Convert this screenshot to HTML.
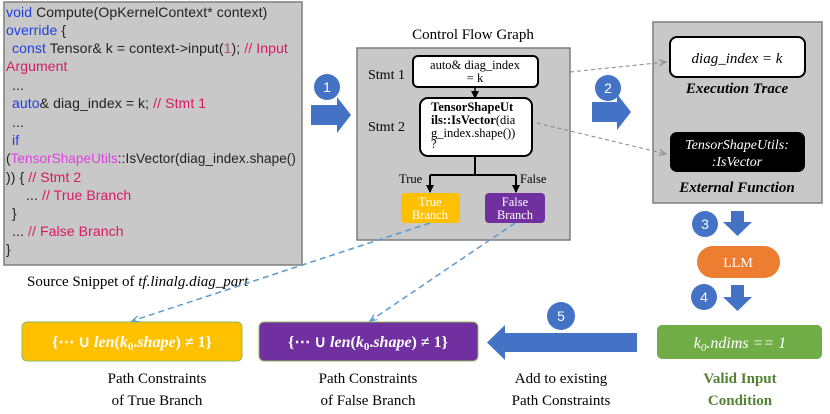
<!DOCTYPE html>
<html><head><meta charset="utf-8"><style>
body{margin:0;background:#fff;}
svg{display:block;}
.code{font-family:"Liberation Sans",sans-serif;font-size:14px;letter-spacing:0.1px;}
.serif{font-family:"Liberation Serif",serif;}
</style></head><body>
<svg width="830" height="414" viewBox="0 0 830 414" xmlns="http://www.w3.org/2000/svg">
<defs>
<marker id="ah" markerWidth="8" markerHeight="8" refX="7" refY="4" orient="auto" markerUnits="userSpaceOnUse"><path d="M0,0 L8,4 L0,8 z" fill="#000"/></marker>
<marker id="ag" markerWidth="8" markerHeight="8" refX="7" refY="4" orient="auto" markerUnits="userSpaceOnUse"><path d="M0,1 L7,4 L0,7" fill="none" stroke="#888" stroke-width="1"/></marker>
<marker id="ab" markerWidth="8" markerHeight="8" refX="7" refY="4" orient="auto" markerUnits="userSpaceOnUse"><path d="M0,1 L7,4 L0,7" fill="none" stroke="#5b9bd5" stroke-width="1.2"/></marker>
</defs>
<!-- code box -->
<rect x="4" y="2" width="298" height="263" fill="#c8c8c8" stroke="#7f7f7f" stroke-width="1.5"/>
<g class="code" fill="#222">
<text x="6" y="17"><tspan fill="#1f3fdf">void</tspan> Compute(OpKernelContext* context)</text>
<text x="6" y="35"><tspan fill="#1f3fdf">override</tspan> {</text>
<text x="12" y="53"><tspan fill="#1f3fdf">const</tspan> Tensor&amp; k = context-&gt;input(<tspan fill="#c0504d">1</tspan>); <tspan fill="#d81b60">// Input</tspan></text>
<text x="6" y="71" fill="#d81b60">Argument</text>
<text x="12" y="90">...</text>
<text x="12" y="108"><tspan fill="#1f3fdf">auto</tspan>&amp; diag_index = k; <tspan fill="#d81b60">// Stmt 1</tspan></text>
<text x="12" y="127">...</text>
<text x="12" y="145" fill="#1f3fdf">if</text>
<text x="6" y="163" textLength="290" lengthAdjust="spacingAndGlyphs">(<tspan fill="#e040e0">TensorShapeUtils</tspan>::IsVector(diag_index.shape()</text>
<text x="6" y="182">)) { <tspan fill="#d81b60">// Stmt 2</tspan></text>
<text x="26" y="200">... <tspan fill="#d81b60">// True Branch</tspan></text>
<text x="12" y="218">}</text>
<text x="12" y="236">... <tspan fill="#d81b60">// False Branch</tspan></text>
<text x="6" y="254">}</text>
</g>
<text x="27" y="286" class="serif" font-size="15">Source Snippet of <tspan font-style="italic">tf.linalg.diag_part</tspan></text>

<!-- arrow 1 -->
<circle cx="327" cy="87" r="13" fill="#4472c4"/>
<text x="327" y="92" text-anchor="middle" fill="#fff" font-family="Liberation Sans" font-size="14">1</text>
<path d="M311,105 L337,105 L337,97 L351,115 L337,133 L337,125 L311,125 z" fill="#4472c4"/>

<!-- CFG -->
<text x="473" y="39" text-anchor="middle" class="serif" font-size="15">Control Flow Graph</text>
<rect x="357" y="48" width="213" height="192" fill="#c8c8c8" stroke="#7f7f7f" stroke-width="1.5"/>
<text x="368" y="79" class="serif" font-size="14">Stmt 1</text>
<text x="368" y="131" class="serif" font-size="14">Stmt 2</text>
<rect x="413" y="56" width="125" height="31" rx="5" fill="#fff" stroke="#000" stroke-width="2"/>
<text x="475" y="69" text-anchor="middle" class="serif" font-size="12.5">auto&amp; diag_index</text>
<text x="475" y="82" text-anchor="middle" class="serif" font-size="12.5">= k</text>
<line x1="475" y1="87" x2="475" y2="98" stroke="#000" stroke-width="1.5" marker-end="url(#ah)"/>
<rect x="420" y="98" width="112" height="58" rx="8" fill="#fff" stroke="#000" stroke-width="2"/>
<g class="serif" font-size="12.5">
<text x="431" y="111" font-weight="bold">TensorShapeUt</text>
<text x="431" y="124"><tspan font-weight="bold">ils::IsVector</tspan>(dia</text>
<text x="431" y="137">g_index.shape())</text>
<text x="431" y="148">?</text>
</g>
<path d="M475,156 L475,175 M430,175 L516,175" stroke="#000" stroke-width="2" fill="none"/>
<line x1="430" y1="175" x2="430" y2="192" stroke="#000" stroke-width="2" marker-end="url(#ah)"/>
<line x1="516" y1="175" x2="516" y2="192" stroke="#000" stroke-width="2" marker-end="url(#ah)"/>
<text x="399" y="183" class="serif" font-size="12.5">True</text>
<text x="520" y="183" class="serif" font-size="12.5">False</text>
<rect x="401" y="193" width="59" height="30" rx="4" fill="#ffc000"/>
<text x="430" y="206" text-anchor="middle" class="serif" font-size="12.5" fill="#fff">True</text>
<text x="430" y="219" text-anchor="middle" class="serif" font-size="12.5" fill="#fff">Branch</text>
<rect x="485" y="193" width="60" height="30" rx="4" fill="#7030a0"/>
<text x="515" y="206" text-anchor="middle" class="serif" font-size="12.5" fill="#fff">False</text>
<text x="515" y="219" text-anchor="middle" class="serif" font-size="12.5" fill="#fff">Branch</text>

<!-- arrow 2 -->
<circle cx="608" cy="88" r="13" fill="#4472c4"/>
<text x="608" y="93" text-anchor="middle" fill="#fff" font-family="Liberation Sans" font-size="14">2</text>
<path d="M592,102 L617,102 L617,94 L631,112 L617,130 L617,122 L592,122 z" fill="#4472c4"/>

<!-- right box -->
<rect x="653" y="22" width="169" height="181" fill="#c8c8c8" stroke="#7f7f7f" stroke-width="1.5"/>
<rect x="670" y="37" width="135" height="40" rx="7" fill="#fff" stroke="#000" stroke-width="2"/>
<text x="737" y="63" text-anchor="middle" class="serif" font-style="italic" font-size="15">diag_index = k</text>
<text x="737" y="93" text-anchor="middle" class="serif" font-style="italic" font-weight="bold" font-size="15">Execution Trace</text>
<rect x="670" y="132" width="135" height="40" rx="7" fill="#000"/>
<text x="737" y="149" text-anchor="middle" class="serif" font-style="italic" font-size="14" fill="#fff">TensorShapeUtils:</text>
<text x="737" y="166" text-anchor="middle" class="serif" font-style="italic" font-size="14" fill="#fff">:IsVector</text>
<text x="737" y="192" text-anchor="middle" class="serif" font-style="italic" font-weight="bold" font-size="15">External Function</text>

<!-- gray dashed (on top) -->
<line x1="570" y1="72" x2="666" y2="62" stroke="#888" stroke-width="1" stroke-dasharray="4,3" marker-end="url(#ag)"/>
<line x1="537" y1="123" x2="666" y2="154" stroke="#888" stroke-width="1" stroke-dasharray="4,3" marker-end="url(#ag)"/>

<!-- 3 LLM 4 -->
<circle cx="705" cy="224" r="13" fill="#4472c4"/>
<text x="705" y="229" text-anchor="middle" fill="#fff" font-family="Liberation Sans" font-size="14">3</text>
<path d="M731,211 L744,211 L744,222 L752,222 L737.5,236 L723,222 L731,222 z" fill="#4472c4"/>
<rect x="697" y="246" width="83" height="32" rx="16" fill="#ed7d31"/>
<text x="738" y="267" text-anchor="middle" class="serif" font-size="14" fill="#fff">LLM</text>
<circle cx="704" cy="297" r="13" fill="#4472c4"/>
<text x="704" y="302" text-anchor="middle" fill="#fff" font-family="Liberation Sans" font-size="14">4</text>
<path d="M731,285 L744,285 L744,297 L752,297 L737.5,311 L723,297 L731,297 z" fill="#4472c4"/>

<!-- green -->
<rect x="657" y="325" width="165" height="34" rx="5" fill="#70ad47"/>
<text x="740" y="348" text-anchor="middle" class="serif" font-style="italic" font-size="16" fill="#fff">k<tspan font-size="11" dy="3">0</tspan><tspan dy="-3">.ndims == 1</tspan></text>
<text x="740" y="383" text-anchor="middle" class="serif" font-weight="bold" font-size="15" fill="#548235">Valid Input</text>
<text x="740" y="405" text-anchor="middle" class="serif" font-weight="bold" font-size="15" fill="#548235">Condition</text>

<!-- arrow 5 -->
<circle cx="561" cy="316" r="14" fill="#4472c4"/>
<text x="561" y="321" text-anchor="middle" fill="#fff" font-family="Liberation Sans" font-size="14">5</text>
<path d="M637,333 L505,333 L505,325 L487,342.5 L505,360 L505,352 L637,352 z" fill="#4472c4"/>
<text x="561" y="383" text-anchor="middle" class="serif" font-size="15">Add to existing</text>
<text x="561" y="405" text-anchor="middle" class="serif" font-size="15">Path Constraints</text>

<!-- PC boxes -->
<rect x="22" y="322" width="220" height="39" rx="5" fill="#ffc000" stroke="#8fbc5a" stroke-width="1"/>
<text x="132" y="347" text-anchor="middle" font-family="Liberation Serif" font-size="16" fill="#fff" font-weight="bold">{⋯ ∪ <tspan font-style="italic">len</tspan>(<tspan font-style="italic">k</tspan><tspan font-size="11" dy="3">0</tspan><tspan dy="-3">.</tspan><tspan font-style="italic">shape</tspan>) ≠ 1}</text>
<rect x="259" y="322" width="219" height="39" rx="5" fill="#7030a0" stroke="#8fbc5a" stroke-width="1"/>
<text x="368" y="347" text-anchor="middle" font-family="Liberation Serif" font-size="16" fill="#fff" font-weight="bold">{⋯ ∪ <tspan font-style="italic">len</tspan>(<tspan font-style="italic">k</tspan><tspan font-size="11" dy="3">0</tspan><tspan dy="-3">.</tspan><tspan font-style="italic">shape</tspan>) ≠ 1}</text>
<text x="157" y="383" text-anchor="middle" class="serif" font-size="15">Path Constraints</text>
<text x="157" y="405" text-anchor="middle" class="serif" font-size="15">of True Branch</text>
<text x="368" y="383" text-anchor="middle" class="serif" font-size="15">Path Constraints</text>
<text x="368" y="405" text-anchor="middle" class="serif" font-size="15">of False Branch</text>

<!-- blue dashed -->
<line x1="430" y1="223" x2="132" y2="321" stroke="#5b9bd5" stroke-width="1.5" stroke-dasharray="6,4" marker-end="url(#ab)"/>
<line x1="515" y1="223" x2="370" y2="321" stroke="#5b9bd5" stroke-width="1.5" stroke-dasharray="6,4" marker-end="url(#ab)"/>
</svg>
</body></html>
